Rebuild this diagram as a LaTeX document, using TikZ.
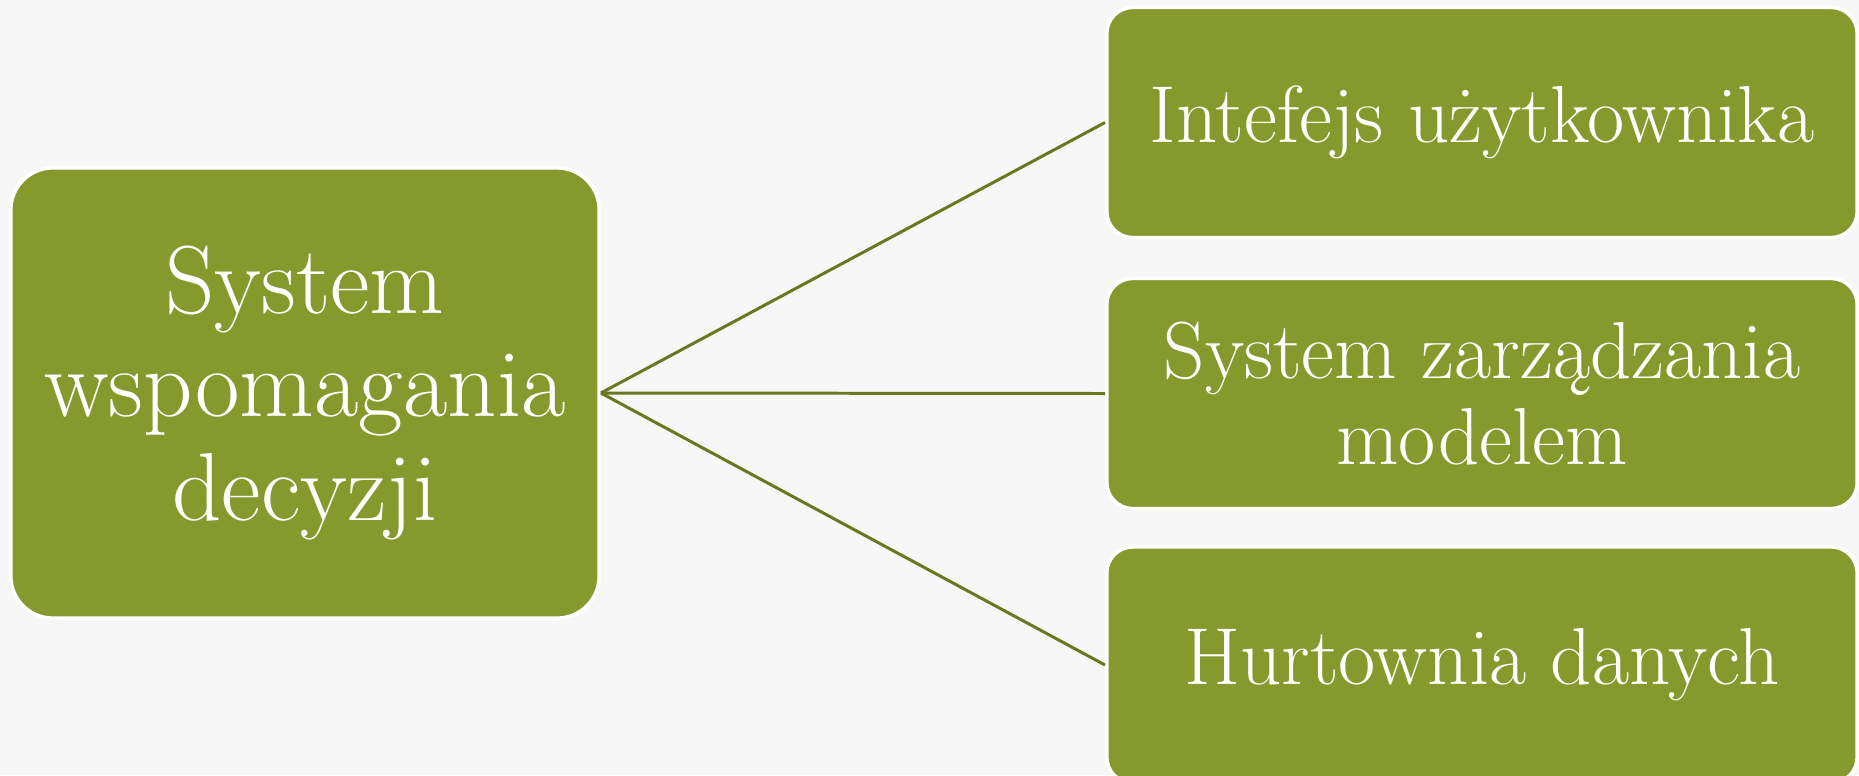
\documentclass[tikz,border=0pt]{standalone}
\definecolor{leaf}{RGB}{134,153,45}
\definecolor{twig}{RGB}{104,120,30}
\definecolor{paper}{RGB}{247,247,247}
\begin{document}
\begin{tikzpicture}[x=0.01cm,y=-0.01cm]
		\tikzset{
			block/.style={fill=leaf, draw=white, line width=1pt, text=white, align=center, inner sep=0pt},
			hub/.style={block, rounded corners=0.42cm, minimum width=5.88cm, minimum height=4.5cm, font=\fontsize{27.5}{29.5}\selectfont},
			part/.style={block, rounded corners=0.26cm, minimum width=7.5cm, minimum height=2.3cm, font=\fontsize{23}{24.2}\selectfont},
			link/.style={draw=twig, line width=0.85pt},
		}
		% Paper background, also the page size.
		\fill[paper] (0,0) rectangle (1859,775);
		\useasboundingbox (0,0) rectangle (1859,775);
		
		% The main block on the left.
		\node[hub] (dss) at (305,393) {System\\wspomagania\\decyzji};
		
		% The three parts on the right.
		\node[part] (ui) at (1482,122.5) {Intefejs użytkownika};
		\node[part] (mms) at (1482,393.5) {System zarządzania\\modelem};
		\node[part, minimum height=2.36cm] (dw) at (1482,665) {Hurtownia danych};
		
		% Connect them.
		\draw[link] (dss.east) -- (ui.west);
		\draw[link] (dss.east) -- (mms.west);
		\draw[link] (dss.east) -- (dw.west);
\end{tikzpicture}
\end{document}
